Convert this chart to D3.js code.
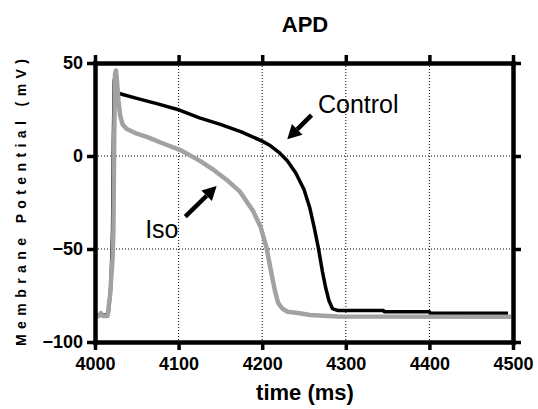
<!DOCTYPE html>
<html>
<head>
<meta charset="utf-8">
<script src="https://cdn.jsdelivr.net/npm/d3@7"></script>
<style>
  html, body { margin: 0; padding: 0; background: #fff; }
  svg { display: block; font-family: "Liberation Sans", Arial, sans-serif; }
</style>
</head>
<body>
<svg id="chart" width="538" height="409"></svg>
<script>
// time (ms) / membrane potential (mV)
const controlTime = [4000, 4014, 4016, 4019, 4021, 4022, 4023, 4024, 4026, 4028, 4030, 4050, 4075, 4101, 4125, 4150, 4175, 4200, 4210, 4220, 4230, 4240, 4250, 4257, 4262, 4267, 4272, 4276, 4280, 4284, 4290, 4345, 4346, 4400, 4401, 4494];
const controlV    = [-85.5, -85.5, -84, -70, -40, 10, 40, 44, 36, 34, 33.5, 31, 28, 24.7, 20.5, 17, 13, 8, 5.5, 2, -2.5, -9, -18, -28, -38, -49, -62, -71, -78, -82, -83, -83, -83.7, -83.7, -84.6, -84.6];

const isoTime = [4000, 4005, 4007, 4009, 4015, 4018, 4021, 4022, 4023, 4024, 4025, 4026, 4027, 4028, 4030, 4033, 4038, 4050, 4062, 4080, 4102, 4125, 4142, 4158, 4173, 4189, 4198, 4205, 4211, 4215, 4219, 4224, 4230, 4245, 4257, 4290, 4498];
const isoV    = [-86, -86, -84.5, -86, -86, -75, -55, -40, 10, 44, 46, 42, 36, 30, 22, 17, 14.5, 12, 10.3, 7, 3.2, -2.5, -7.5, -13, -19, -29.5, -38, -49, -63, -72, -79, -82, -83.7, -84.5, -85.5, -86.3, -86.4];

const xTicks = [4000, 4100, 4200, 4300, 4400, 4500];
const yTicks = [-100, -50, 0, 50];

const labels = [
  { text: "Control", t: 4266.7, v: 23.1, from: [4259, 22], to: [4230, 9] },
  { text: "Iso", t: 4060, v: -44, from: [4108, -32.6], to: [4145.5, -16.1] }
];

const W = 538, H = 409;
const m = { top: 63, right: 25, bottom: 67, left: 95 };
const FONT = '"Liberation Sans", Arial, sans-serif';

const svg = d3.select("#chart");

const x = d3.scaleLinear().domain([4000, 4500]).range([m.left, W - m.right]);
const y = d3.scaleLinear().domain([-100, 50]).range([H - m.bottom, m.top]);

// dotted grid
svg.append("g").selectAll("line").data(xTicks.slice(1, -1)).join("line")
  .attr("x1", d => x(d)).attr("x2", d => x(d))
  .attr("y1", y(50)).attr("y2", y(-100))
  .attr("stroke", "#000").attr("stroke-width", 1).attr("stroke-dasharray", "1,2");
svg.append("g").selectAll("line").data(yTicks.slice(1, -1)).join("line")
  .attr("x1", x(4000)).attr("x2", x(4500))
  .attr("y1", d => y(d)).attr("y2", d => y(d))
  .attr("stroke", "#000").attr("stroke-width", 1).attr("stroke-dasharray", "1,2");

// traces
const line = d3.line().x(d => x(d[0])).y(d => y(d[1]));
svg.append("path")
  .datum(controlTime.map((t, i) => [t, controlV[i]]))
  .attr("d", line).attr("fill", "none")
  .attr("stroke", "#000").attr("stroke-width", 3.5).attr("stroke-linejoin", "round");
svg.append("path")
  .datum(isoTime.map((t, i) => [t, isoV[i]]))
  .attr("d", line).attr("fill", "none")
  .attr("stroke", "#a2a2a2").attr("stroke-width", 4.5).attr("stroke-linejoin", "round");

// frame with ticks on all four sides
function styleAxis(ax, labelsOn) {
  ax.attr("font-family", FONT);
  ax.select(".domain").attr("stroke-width", 4.5).attr("stroke-linecap", "square");
  ax.selectAll(".tick line").attr("stroke-width", 3.5);
  ax.selectAll(".tick text")
    .style("font-size", "18px").style("font-weight", "bold").attr("fill", "#000");
  if (!labelsOn) ax.selectAll(".tick text").remove();
}

svg.append("g").attr("transform", `translate(0,${y(-100)})`)
  .call(d3.axisBottom(x).tickValues(xTicks).tickSize(8).tickSizeOuter(0).tickPadding(7).tickFormat(d3.format("d")))
  .call(ax => styleAxis(ax, true));
svg.append("g").attr("transform", `translate(0,${y(50)})`)
  .call(d3.axisTop(x).tickValues(xTicks).tickSize(8).tickSizeOuter(0))
  .call(ax => styleAxis(ax, false));
svg.append("g").attr("transform", `translate(${x(4000)},0)`)
  .call(d3.axisLeft(y).tickValues(yTicks).tickSize(8).tickSizeOuter(0).tickPadding(4))
  .call(ax => styleAxis(ax, true));
svg.append("g").attr("transform", `translate(${x(4500)},0)`)
  .call(d3.axisRight(y).tickValues(yTicks).tickSize(8).tickSizeOuter(0))
  .call(ax => styleAxis(ax, false));

// annotations
labels.forEach(l => {
  svg.append("text")
    .attr("x", x(l.t)).attr("y", y(l.v))
    .style("font-size", "25px").attr("fill", "#000")
    .text(l.text);
  const x1 = x(l.from[0]), y1 = y(l.from[1]), x2 = x(l.to[0]), y2 = y(l.to[1]);
  const ang = Math.atan2(y2 - y1, x2 - x1);
  const hl = 14, hw = 7.5;
  const bx = x2 - hl * Math.cos(ang), by = y2 - hl * Math.sin(ang);
  svg.append("line")
    .attr("x1", x1).attr("y1", y1).attr("x2", bx).attr("y2", by)
    .attr("stroke", "#000").attr("stroke-width", 4.5);
  svg.append("path")
    .attr("d", `M${x2},${y2}L${bx + hw * Math.sin(ang)},${by - hw * Math.cos(ang)}L${bx - hw * Math.sin(ang)},${by + hw * Math.cos(ang)}Z`)
    .attr("fill", "#000");
});

// titles
svg.append("text")
  .attr("x", 305).attr("y", 32).attr("text-anchor", "middle")
  .style("font-size", "22px").style("font-weight", "bold")
  .text("APD");
svg.append("text")
  .attr("x", 305).attr("y", 400).attr("text-anchor", "middle")
  .style("font-size", "22px").style("font-weight", "bold")
  .text("time (ms)");
svg.append("text")
  .attr("transform", `translate(26,${(y(50) + y(-100)) / 2}) rotate(-90)`)
  .attr("text-anchor", "middle")
  .attr("textLength", 287).attr("lengthAdjust", "spacing")
  .style("font-size", "14px").style("font-weight", "bold").style("white-space", "pre")
  .text("M e m b r a n e   P o t e n t i a l   ( m V )");
</script>
</body>
</html>
